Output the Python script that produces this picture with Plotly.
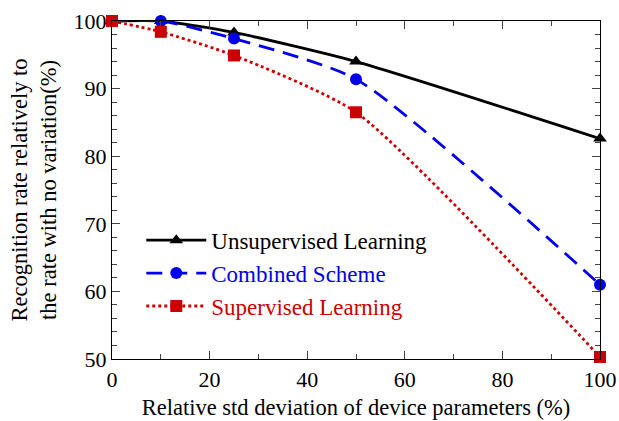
import plotly.graph_objects as go

x_vals = [0, 10, 25, 50, 100]
unsupervised = [100, 100, 98.3, 94.0, 82.6]
combined = [100, 100, 97.4, 91.4, 61.0]
supervised = [100, 98.4, 94.9, 86.5, 50.3]

names = ["Unsupervised Learning", "Combined Scheme", "Supervised Learning"]
colors = ["black", "#0000ee", "#cc0000"]
dashes = ["solid", "16px,9px", "dot"]
symbols = ["triangle-up", "circle", "square"]
msizes = [12, 12, 12]
series = [unsupervised, combined, supervised]

FONT = "Liberation Serif"

fig = go.Figure()
for i, (ys, nm, c, d, s, ms) in enumerate(zip(series, names, colors, dashes, symbols, msizes)):
    fig.add_trace(go.Scatter(
        x=x_vals, y=ys, mode="lines+markers",
        name=f'<span style="color:{c}">{nm}</span>',
        line=dict(color=c, width=2.8, dash=d, shape="spline", smoothing=0.6),
        marker=dict(symbol=s, size=ms, color=c),
        cliponaxis=False, legendgroup=f"g{i}",
    ))

fig.update_layout(
    width=619, height=421,
    margin=dict(l=112, r=19, t=21, b=62),
    paper_bgcolor="white", plot_bgcolor="white",
    font=dict(family=FONT, size=22, color="black"),
    showlegend=True,
    legend=dict(x=0.06, y=0.415, xanchor="left", yanchor="top",
                bgcolor="rgba(0,0,0,0)", font=dict(family=FONT, size=23),
                tracegroupgap=0, itemwidth=60),
    xaxis=dict(range=[0, 100], dtick=20, tick0=0, ticks="inside", ticklen=8,
               showline=True, linecolor="black", linewidth=1.2, mirror="allticks",
               showgrid=False, zeroline=False, tickfont=dict(size=22), automargin=False,
               minor=dict(dtick=10, ticks="inside", ticklen=5, showgrid=False),
               title=dict(text="Relative std deviation of device parameters (%)",
                          font=dict(size=22.5), standoff=8)),
    yaxis=dict(range=[50, 100], dtick=10, tick0=50, ticks="inside", ticklen=8,
               showline=True, linecolor="black", linewidth=1.2, mirror="allticks",
               showgrid=False, zeroline=False, tickfont=dict(size=22), automargin=False,
               minor=dict(dtick=2, ticks="inside", ticklen=5, showgrid=False),
               title=dict(text="Recognition rate relatively to<br>the rate with no variation(%)",
                          font=dict(size=22.5), standoff=10)),
)

fig.write_html("out.html")
